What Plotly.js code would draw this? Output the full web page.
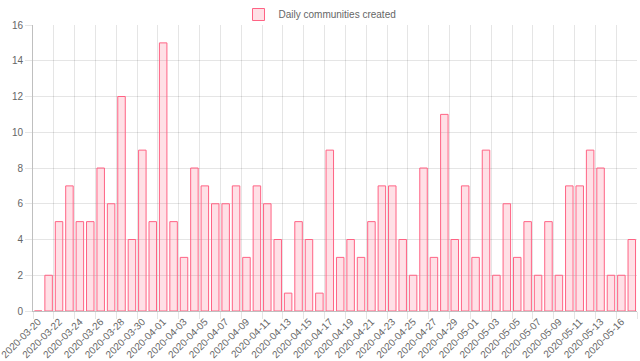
<!DOCTYPE html>
<html>
<head>
<meta charset="utf-8">
<script src="https://cdn.plot.ly/plotly-3.0.1.min.js"></script>
<style>
  html, body { margin: 0; padding: 0; background: #fff; }
  #chart { width: 640px; height: 361px; }
</style>
</head>
<body>
<div id="chart"></div>
<script>
const seriesName = "Daily communities created";

const dates = [
  "2020-03-20","2020-03-21","2020-03-22","2020-03-23","2020-03-24","2020-03-25",
  "2020-03-26","2020-03-27","2020-03-28","2020-03-29","2020-03-30","2020-03-31",
  "2020-04-01","2020-04-02","2020-04-03","2020-04-04","2020-04-05","2020-04-06",
  "2020-04-07","2020-04-08","2020-04-09","2020-04-10","2020-04-11","2020-04-12",
  "2020-04-13","2020-04-14","2020-04-15","2020-04-16","2020-04-17","2020-04-18",
  "2020-04-19","2020-04-20","2020-04-21","2020-04-22","2020-04-23","2020-04-24",
  "2020-04-25","2020-04-26","2020-04-27","2020-04-28","2020-04-29","2020-04-30",
  "2020-05-01","2020-05-02","2020-05-03","2020-05-04","2020-05-05","2020-05-06",
  "2020-05-07","2020-05-08","2020-05-09","2020-05-10","2020-05-11","2020-05-12",
  "2020-05-13","2020-05-15","2020-05-16","2020-05-17"
];

const created = [
  0, 2, 5, 7, 5, 5, 8, 6, 12, 4, 9, 5, 15, 5, 3, 8, 7, 6, 6, 7,
  3, 7, 6, 4, 1, 5, 4, 1, 9, 3, 4, 3, 5, 7, 7, 4, 2, 8, 3, 11,
  4, 7, 3, 9, 2, 6, 3, 5, 2, 5, 2, 7, 7, 9, 8, 2, 2, 4
];

const yTicks = [0, 2, 4, 6, 8, 10, 12, 14, 16];

const fontFamily = "'Liberation Sans', Arial, Helvetica, sans-serif";
const gridColor = "rgba(0,0,0,0.1)";
const axisColor = "rgba(0,0,0,0.25)";

const trace = {
  type: "bar",
  name: seriesName,
  x: dates,
  y: created,
  marker: {
    color: "rgba(255,99,132,0.2)",
    line: { color: "rgb(255,99,132)", width: 1 }
  },
  hoverinfo: "x+y"
};

const layout = {
  width: 640,
  height: 361,
  margin: { l: 33, r: 3, t: 25, b: 50, pad: 0, autoexpand: false },
  paper_bgcolor: "#ffffff",
  plot_bgcolor: "#ffffff",
  font: { family: fontFamily, size: 10, color: "#666666" },
  bargap: 0.28,
  showlegend: true,
  legend: {
    orientation: "h",
    xref: "container",
    yref: "container",
    x: 0.5,
    xanchor: "center",
    y: 1,
    yanchor: "top",
    font: { family: fontFamily, size: 10, color: "#666666" },
    bgcolor: "rgba(0,0,0,0)"
  },
  xaxis: {
    type: "category",
    tickmode: "linear",
    tick0: 0,
    dtick: 2,
    tickson: "boundaries",
    tickangle: -45,
    ticks: "outside",
    ticklen: 7,
    tickcolor: gridColor,
    showgrid: true,
    gridcolor: gridColor,
    gridwidth: 1,
    showline: true,
    linecolor: axisColor,
    linewidth: 1,
    zeroline: false,
    automargin: false,
    tickfont: { family: fontFamily, size: 10, color: "#666666" },
    fixedrange: true
  },
  yaxis: {
    range: [0, 16],
    tickmode: "array",
    tickvals: yTicks,
    ticktext: yTicks.map(String),
    ticks: "outside",
    ticklen: 7,
    tickcolor: gridColor,
    showgrid: true,
    gridcolor: gridColor,
    gridwidth: 1,
    showline: true,
    linecolor: axisColor,
    linewidth: 1,
    zeroline: false,
    automargin: false,
    tickfont: { family: fontFamily, size: 10, color: "#666666" },
    fixedrange: true
  }
};

Plotly.newPlot("chart", [trace], layout, { displayModeBar: false, staticPlot: true });
</script>
</body>
</html>
